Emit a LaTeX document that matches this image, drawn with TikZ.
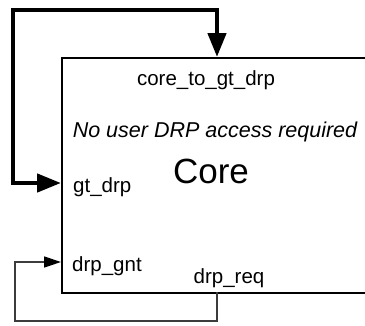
\documentclass[tikz,border=0pt]{standalone}
\usepackage{fontspec}
\setmainfont{Liberation Sans}
\usetikzlibrary{arrows.meta,positioning}
\definecolor{cwire}{HTML}{3C3C3C}

\begin{document}
\begin{tikzpicture}[
        x=1pt, y=-1pt,
        font=\fontsize{20.5}{24}\selectfont,
        corebox/.style={draw, line width=2pt, minimum width=320pt,
                        minimum height=235pt, inner sep=0pt},
        port/.style={inner sep=0pt},
        bus/.style={line width=4.5pt,
                    {Triangle[length=24pt,width=18pt]}-{Triangle[length=24pt,width=18pt]}},
        wire/.style={cwire, line width=1.5pt,
                     -{Triangle[length=17pt,width=11pt,color=black]}}
    ]
        \useasboundingbox (0,0) rectangle (365,325);
        \node[corebox, anchor=north west] (core) at (61,57) {};
        % port ends on the box edge
        \coordinate (gtin) at (61,183);
        \coordinate (cgout) at (217,57);
        \coordinate (gntin) at (61,262);
        \coordinate (reqout) at (217,292);
        \node[port, anchor=base] (cglbl) at (206,85) {core\_to\_gt\_drp};
        \node[port, anchor=base, font=\fontsize{21.5}{25}\selectfont\itshape]
            (note) at (215,137) {No user DRP access required};
        \node[port, anchor=base, font=\fontsize{35}{40}\selectfont]
            (name) at (211,183) {Core};
        \node[port, anchor=base west] (gtlbl) at (73,192) {gt\_drp};
        \node[port, anchor=base west] (gntlbl) at (72,271) {drp\_gnt};
        \node[port, anchor=base] (reqlbl) at (229,283) {drp\_req};
        \draw[bus] (gtin) -| (13,10) -| (cgout);
        \draw[wire] (reqout) |- (15,321) |- (gntin);
    \end{tikzpicture}
\end{document}
